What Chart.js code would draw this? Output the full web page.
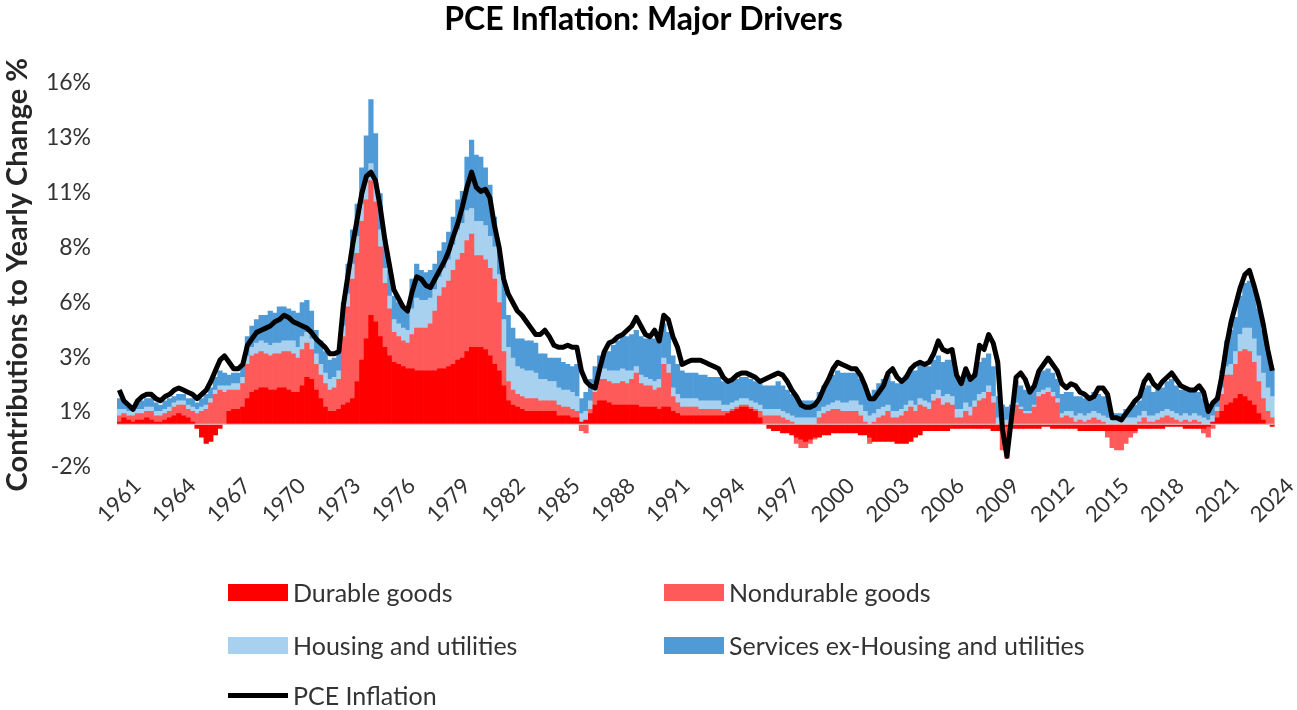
<!DOCTYPE html>
<html>
<head>
<meta charset="utf-8">
<title>PCE Inflation: Major Drivers</title>
<script src="https://cdn.jsdelivr.net/npm/chart.js@4.4.1/dist/chart.umd.min.js"></script>
<style>
  html, body { margin: 0; padding: 0; background: #fff; }
  #wrap { position: relative; width: 1297px; height: 710px; }
  #legend { position: absolute; left: 0; top: 0; font-family: Lato, "Open Sans", sans-serif; font-size: 25px; color: #333; }
  .item { position: absolute; display: flex; align-items: center; white-space: nowrap; height: 26px; }
  .swatch { width: 60px; height: 17px; margin-right: 5px; }
  .swatch.line { height: 5px; }
</style>
</head>
<body>
<div id="wrap">
  <canvas id="chart" width="1297" height="710"></canvas>
  <div id="legend"></div>
</div>
<script>
// quarterly data, 1961 Q1 .. 2024 Q1, contributions in percentage points
var startYear = 1961;
var tickYears = [1961, 1964, 1967, 1970, 1973, 1976, 1979, 1982, 1985, 1988, 1991,
                 1994, 1997, 2000, 2003, 2006, 2009, 2012, 2015, 2018, 2021, 2024];
var yTickCount = 8;

var pce = [
  1.6, 1.1, 0.9, 0.7,   1.1, 1.3, 1.4, 1.4,   1.2, 1.1, 1.3, 1.4,   1.6, 1.7, 1.6, 1.5,
  1.4, 1.2, 1.4, 1.6,   2.0, 2.5, 3.0, 3.2,   2.9, 2.6, 2.6, 2.8,   3.7, 4.0, 4.3, 4.4,
  4.5, 4.6, 4.8, 4.9,   5.1, 5.0, 4.8, 4.7,   4.6, 4.5, 4.3, 4.0,   3.8, 3.6, 3.3, 3.3,
  3.4, 5.6, 7.0, 8.4,   9.6, 10.8, 11.6, 11.8, 11.4, 10.2, 8.7, 7.5, 6.3, 5.9, 5.5, 5.3,
  6.2, 6.9, 6.8, 6.5,   6.4, 6.8, 7.2, 7.6,   8.1, 8.8, 9.4, 10.2,  11.1, 11.8, 11.1, 10.9,
  11.0, 10.6, 9.3, 8.3, 6.8, 6.1, 5.7, 5.3,   5.1, 4.8, 4.5, 4.2,   4.2, 4.4, 4.1, 3.7,
  3.6, 3.6, 3.7, 3.6,   3.6, 2.5, 2.0, 1.8,   1.7, 2.6, 3.4, 3.8,   3.9, 4.1, 4.2, 4.4,
  4.6, 5.0, 4.6, 4.2,   4.1, 4.4, 3.9, 5.1,   4.9, 4.1, 3.6, 2.8,   2.9, 3.0, 3.0, 3.0,
  2.9, 2.8, 2.7, 2.6,   2.2, 2.0, 2.1, 2.3,   2.4, 2.4, 2.3, 2.2,   2.0, 2.1, 2.2, 2.3,
  2.4, 2.3, 2.0, 1.6,   1.3, 0.9, 0.8, 0.8,   0.9, 1.2, 1.7, 2.1,   2.6, 2.9, 2.8, 2.7,
  2.6, 2.6, 2.3, 1.8,   1.2, 1.2, 1.5, 1.8,   2.4, 2.6, 2.2, 2.0,   2.2, 2.6, 2.8, 2.9,
  2.8, 2.9, 3.3, 3.9,   3.5, 3.4, 3.5, 2.3,   1.9, 2.6, 2.1, 2.3,   3.7, 3.5, 4.2, 3.8,
  2.9, -0.2, -1.5, 0.3, 2.2, 2.4, 2.1, 1.5,   1.8, 2.5, 2.8, 3.1,   2.8, 2.5, 1.9, 1.7,
  1.9, 1.8, 1.5, 1.4,   1.2, 1.3, 1.7, 1.7,   1.4, 0.3, 0.3, 0.2,   0.5, 0.8, 1.1, 1.3,
  2.0, 2.3, 1.9, 1.7,   2.0, 2.2, 2.4, 2.1,   1.8, 1.7, 1.6, 1.6,   1.8, 1.5, 0.6, 1.0,
  1.2, 2.3, 3.7, 4.8,   5.6, 6.4, 7.0, 7.2,   6.5, 5.7, 4.7, 3.5,   2.5
];

var durable = [
  0.1, 0.3, 0.2, 0.1,   0.2, 0.2, 0.3, 0.2,   0.1, 0.1, 0.2, 0.3,   0.4, 0.5, 0.4, 0.3,
  0.1, -0.2, -0.6, -0.9, -0.8, -0.5, -0.2, 0.0, 0.6, 0.7, 0.7, 0.8,   1.2, 1.5, 1.6, 1.7,
  1.7, 1.6, 1.6, 1.7,   1.7, 1.6, 1.5, 1.5,   1.8, 2.2, 2.1, 1.6,   1.2, 0.8, 0.6, 0.6,
  0.7, 0.9, 1.0, 1.2,   2.0, 3.0, 4.0, 5.1,   4.8, 4.1, 3.6, 3.2,   2.9, 2.8, 2.7, 2.6,
  2.6, 2.5, 2.5, 2.5,   2.5, 2.5, 2.6, 2.6,   2.7, 2.8, 3.0, 3.1,   3.4, 3.6, 3.6, 3.6,
  3.5, 3.2, 2.8, 2.5,   1.8, 1.1, 0.9, 0.8,   0.7, 0.6, 0.6, 0.6,   0.6, 0.6, 0.6, 0.6,
  0.4, 0.4, 0.4, 0.3,   0.3, 0.1, 0.2, 0.5,   0.9, 1.1, 1.1, 1.0,   0.9, 0.9, 0.9, 0.9,
  0.9, 0.9, 0.8, 0.8,   0.8, 0.8, 0.7, 0.8,   0.8, 0.6, 0.5, 0.4,   0.4, 0.4, 0.4, 0.4,
  0.4, 0.4, 0.4, 0.4,   0.4, 0.5, 0.6, 0.7,   0.8, 0.8, 0.7, 0.6,   0.3, 0.0, -0.2, -0.3,
  -0.3, -0.4, -0.4, -0.5, -0.6, -0.7, -0.8, -0.7, -0.6, -0.6, -0.5, -0.5, -0.4, -0.4, -0.4, -0.4,
  -0.4, -0.4, -0.5, -0.5, -0.6, -0.8, -0.8, -0.8, -0.8, -0.8, -0.9, -0.9, -0.9, -0.8, -0.6, -0.5,
  -0.3, -0.3, -0.3, -0.3, -0.3, -0.3, -0.2, -0.2, -0.2, -0.2, -0.2, -0.2, -0.2, -0.2, -0.2, -0.3,
  -0.3, -0.2, -0.1, -0.2, -0.2, -0.2, -0.2, -0.2, -0.2, -0.2, -0.1, -0.1, -0.2, -0.2, -0.2, -0.2,
  -0.2, -0.2, -0.3, -0.3, -0.3, -0.3, -0.3, -0.3, -0.3, -0.3, -0.3, -0.3, -0.3, -0.3, -0.3, -0.2,
  -0.2, -0.2, -0.2, -0.2, -0.2, -0.1, -0.1, -0.1, -0.1, -0.2, -0.2, -0.2, -0.2, -0.2, -0.1, 0.1,
  0.3, 0.6, 0.9, 1.0,   1.2, 1.4, 1.3, 1.1,   0.9, 0.5, 0.2, 0.0,   -0.1
];

var nondurable = [
  0.3, 0.2, 0.2, 0.3,   0.3, 0.3, 0.3, 0.4,   0.3, 0.3, 0.3, 0.3,   0.4, 0.4, 0.5, 0.4,
  0.5, 0.5, 0.6, 0.7,   1.0, 1.4, 1.6, 1.5,   1.0, 0.9, 0.9, 1.1,   1.6, 1.7, 1.7, 1.7,
  1.6, 1.6, 1.7, 1.6,   1.7, 1.8, 1.8, 1.6,   1.7, 1.6, 1.4, 1.2,   1.1, 1.1, 1.0, 1.1,
  1.4, 3.2, 4.5, 5.6,   6.0, 6.5, 6.5, 6.3,   5.6, 4.2, 3.0, 2.2,   1.4, 1.3, 1.2, 1.2,
  1.6, 2.0, 2.0, 2.0,   2.2, 2.8, 3.4, 3.8,   4.0, 4.4, 4.7, 4.9,   5.2, 5.3, 4.3, 4.3,
  4.2, 4.1, 4.0, 3.2,   1.6, 0.9, 0.7, 0.6,   0.6, 0.6, 0.6, 0.6,   0.5, 0.5, 0.5, 0.5,
  0.5, 0.4, 0.4, 0.4,   0.3, -0.3, -0.4, 0.2, 0.6, 1.0, 1.0, 1.0,   1.0, 1.0, 1.1, 1.0,
  1.2, 1.5, 1.1, 1.0,   1.0, 0.8, 1.0, 2.0,   1.6, 0.7, 0.5, 0.4,   0.4, 0.4, 0.4, 0.3,
  0.3, 0.3, 0.3, 0.3,   0.2, 0.1, 0.1, 0.1,   0.1, 0.1, 0.1, 0.1,   0.3, 0.4, 0.4, 0.4,
  0.4, 0.3, 0.2, 0.1,   -0.3, -0.4, -0.3, -0.2, -0.1, 0.3, 0.5, 0.6,  0.7, 0.7, 0.6, 0.6,
  0.6, 0.6, 0.4, 0.1,   -0.3, 0.1, 0.3, 0.4,  0.6, 0.3, 0.3, 0.4,   0.6, 0.8, 0.6, 0.9,
  0.8, 0.7, 1.1, 1.2,   0.9, 1.0, 0.9, 0.3,   0.3, 0.6, 0.4, 0.8,   1.1, 1.2, 1.5, 1.0,
  0.0, -1.0, -1.5, 0.2, 0.9, 0.7, 0.5, 0.5,   0.8, 1.3, 1.4, 1.5,   1.3, 1.0, 0.3, 0.4,
  0.3, 0.1, 0.2, 0.1,   0.2, 0.3, 0.2, 0.1,   -0.3, -0.8, -0.9, -0.9, -0.6, -0.3, -0.1, 0.1,
  0.3, 0.1, 0.1, 0.2,   0.3, 0.4, 0.3, 0.2,   0.1, 0.2, 0.1, 0.2,   0.1, -0.2, -0.5, -0.2,
  0.3, 0.8, 1.4, 1.3,   1.6, 2.0, 2.2, 2.3,   2.0, 1.5, 1.0, 0.6,   0.3
];

var housing = [
  0.3, 0.2, 0.2, 0.2,   0.2, 0.2, 0.2, 0.2,   0.2, 0.2, 0.2, 0.2,   0.2, 0.2, 0.2, 0.2,
  0.2, 0.2, 0.2, 0.2,   0.2, 0.2, 0.2, 0.3,   0.2, 0.3, 0.3, 0.3,   0.4, 0.4, 0.5, 0.5,
  0.5, 0.5, 0.5, 0.5,   0.5, 0.5, 0.6, 0.5,   0.6, 0.5, 0.5, 0.5,   0.5, 0.5, 0.5, 0.5,
  0.4, 0.5, 0.6, 0.7,   0.8, 0.8, 0.8, 0.8,   0.9, 0.8, 0.7, 0.6,   0.6, 0.6, 0.6, 0.6,
  1.2, 1.4, 1.3, 1.3,   1.2, 1.0, 0.9, 0.9,   1.0, 1.2, 1.4, 1.4,   1.4, 1.2, 1.6, 1.6,
  1.6, 1.5, 1.5, 1.3,   1.5, 1.6, 1.5, 1.3,   1.3, 1.3, 1.3, 1.2,   1.0, 1.0, 0.9, 0.9,
  0.8, 0.8, 0.8, 0.8,   0.7, 0.4, 0.4, 0.4,   0.4, 0.4, 0.5, 0.5,   0.6, 0.6, 0.6, 0.6,
  0.4, 0.3, 0.4, 0.4,   0.3, 0.4, 0.4, 0.3,   0.4, 0.4, 0.4, 0.4,   0.4, 0.4, 0.4, 0.4,
  0.4, 0.4, 0.4, 0.4,   0.3, 0.3, 0.3, 0.3,   0.3, 0.3, 0.3, 0.3,   0.3, 0.3, 0.3, 0.3,
  0.3, 0.3, 0.3, 0.3,   0.3, 0.3, 0.3, 0.3,   0.3, 0.3, 0.3, 0.3,   0.3, 0.4, 0.4, 0.4,
  0.5, 0.5, 0.5, 0.5,   0.4, 0.4, 0.4, 0.4,   0.3, 0.3, 0.3, 0.3,   0.3, 0.3, 0.3, 0.3,
  0.3, 0.3, 0.3, 0.4,   0.4, 0.4, 0.4, 0.4,   0.4, 0.4, 0.4, 0.3,   0.3, 0.3, 0.3, 0.3,
  0.3, 0.2, 0.2, 0.1,   0.1, 0.1, 0.1, 0.1,   0.1, 0.2, 0.2, 0.2,   0.2, 0.2, 0.2, 0.2,
  0.3, 0.3, 0.3, 0.3,   0.3, 0.3, 0.3, 0.3,   0.3, 0.2, 0.2, 0.2,   0.3, 0.3, 0.3, 0.3,
  0.3, 0.3, 0.3, 0.3,   0.3, 0.3, 0.3, 0.3,   0.3, 0.3, 0.3, 0.3,   0.3, 0.3, 0.2, 0.3,
  0.2, 0.3, 0.4, 0.5,   0.6, 0.8, 1.0, 1.1,   1.1, 1.2, 1.2, 1.1,   1.0
];

var services = [
  0.5, 0.3, 0.2, 0.2,   0.3, 0.4, 0.4, 0.4,   0.4, 0.3, 0.4, 0.4,   0.3, 0.3, 0.3, 0.3,
  0.4, 0.3, 0.4, 0.5,   0.5, 0.6, 0.7, 0.6,   0.5, 0.5, 0.5, 0.6,   0.9, 1.0, 1.1, 1.2,
  1.3, 1.6, 1.4, 1.7,   1.6, 1.5, 1.4, 1.6,   1.6, 1.5, 1.3, 1.1,   1.1, 1.0, 0.9, 0.9,
  0.9, 1.1, 1.4, 1.6,   1.5, 1.7, 2.2, 3.0,   2.3, 1.7, 1.4, 1.2,   1.1, 1.0, 0.9, 0.9,
  1.4, 1.6, 1.4, 1.3,   1.3, 1.2, 1.2, 1.2,   1.3, 1.3, 1.4, 1.5,   2.5, 3.2, 3.1, 3.0,
  2.7, 2.4, 1.4, 1.2,   1.8, 1.5, 1.4, 1.3,   1.4, 1.4, 1.4, 1.4,   1.2, 1.2, 1.1, 1.1,
  1.4, 1.3, 1.2, 1.2,   1.5, 0.7, 0.9, 1.0,   0.8, 0.7, 0.8, 0.9,   1.2, 1.4, 1.6, 1.6,
  1.7, 1.7, 1.8, 1.8,   1.9, 2.0, 1.8, 1.6,   1.5, 1.5, 1.4, 1.3,   1.2, 1.2, 1.2, 1.2,
  1.2, 1.1, 1.1, 1.1,   1.1, 1.1, 1.0, 1.0,   1.0, 1.0, 1.0, 1.0,   1.1, 1.1, 1.1, 1.1,
  1.3, 1.2, 1.1, 1.0,   1.0, 0.8, 0.8, 0.8,   0.8, 0.9, 1.0, 1.1,   1.3, 1.4, 1.4, 1.4,
  1.3, 1.3, 1.2, 1.2,   0.7, 1.1, 1.2, 1.3,   1.4, 1.4, 1.3, 1.3,   1.4, 1.5, 1.6, 1.6,
  1.6, 1.7, 1.6, 1.6,   1.6, 1.6, 1.7, 1.6,   1.2, 1.3, 1.3, 1.3,   1.5, 1.6, 1.5, 1.4,
  1.0, 0.7, 0.6, 0.6,   1.0, 1.0, 1.0, 0.9,   0.9, 0.9, 0.9, 0.9,   0.9, 0.9, 0.9, 0.9,
  0.9, 0.9, 0.8, 0.8,   0.8, 0.9, 0.9, 0.9,   1.0, 0.3, 0.3, 0.3,   0.4, 0.5, 0.6, 0.7,
  1.1, 1.4, 1.1, 1.1,   1.1, 1.3, 1.5, 1.3,   1.2, 1.1, 1.1, 1.1,   1.1, 0.9, 0.3, 0.6,
  0.5, 0.8, 1.2, 1.6,   1.6, 1.8, 2.1, 2.2,   2.3, 2.2, 2.0, 1.6,   1.3
];

var quarters = [];
for (var i = 0; i < pce.length; i++) {
  quarters.push((startYear + Math.floor(i / 4)) + ' Q' + (i % 4 + 1));
}

Chart.defaults.font.family = 'Lato, "Open Sans", sans-serif';
Chart.defaults.color = '#333';

var zeroLine = {
  id: 'zeroLine',
  beforeDatasetDraw: function(chart, args) {
    if (args.index !== 4) return;
    var y = chart.scales.y.getPixelForValue(0);
    var ctx = chart.ctx;
    ctx.save();
    ctx.strokeStyle = '#e6d6d6';
    ctx.lineWidth = 1;
    ctx.beginPath();
    ctx.moveTo(chart.chartArea.left, y);
    ctx.lineTo(chart.chartArea.right, y);
    ctx.stroke();
    ctx.restore();
  }
};

function barSet(label, data, color) {
  return {
    type: 'bar', label: label, data: data, backgroundColor: color,
    borderWidth: 0, barPercentage: 1, categoryPercentage: 1, order: 1
  };
}

var ctx = document.getElementById('chart');
var myChart = new Chart(ctx, {
  type: 'bar',
  data: {
    labels: quarters,
    datasets: [
      barSet('Durable goods', durable, '#ff0000'),
      barSet('Nondurable goods', nondurable, '#ff5a5a'),
      barSet('Housing and utilities', housing, '#a8d0ef'),
      barSet('Services ex-Housing and utilities', services, '#4f9bd8'),
      {
        type: 'line', label: 'PCE Inflation', data: pce, stack: 'line',
        borderColor: '#000', backgroundColor: '#000', borderWidth: 5,
        pointRadius: 0, tension: 0, borderJoinStyle: 'round', order: 0
      }
    ]
  },
  options: {
    responsive: false,
    animation: false,
    layout: { padding: { left: 0, right: 10, top: 0, bottom: 166 } },
    plugins: {
      legend: { display: false },
      tooltip: { enabled: false },
      title: {
        display: true,
        text: 'PCE Inflation: Major Drivers',
        color: '#000',
        font: { size: 32, weight: 'bold' },
        padding: { top: 0, bottom: 44 }
      }
    },
    scales: {
      x: {
        stacked: true,
        grid: { display: false, drawTicks: false },
        border: { display: false },
        afterBuildTicks: function(scale) {
          scale.ticks = scale.ticks.filter(function(t) {
            return t.value % 4 === 0 && tickYears.indexOf(startYear + t.value / 4) >= 0;
          });
        },
        afterFit: function(scale) { scale.height = 77; },
        ticks: {
          autoSkip: false, maxRotation: 45, minRotation: 45,
          labelOffset: 18, padding: 6,
          font: { size: 22 }, color: '#333',
          callback: function(value) { return this.getLabelForValue(value).slice(0, 4); }
        }
      },
      y: {
        stacked: true,
        min: -2, max: 16,
        grid: { display: false, drawTicks: false },
        border: { display: false },
        afterFit: function(scale) { scale.width = 117; },
        ticks: {
          count: yTickCount, padding: 26,
          font: { size: 23 }, color: '#333',
          callback: function(v) { return Math.round(v) + '%'; }
        },
        title: {
          display: true,
          text: 'Contributions to Yearly Change %',
          color: '#262626',
          font: { size: 29, weight: 'bold' },
          padding: { top: 0, bottom: 0 }
        }
      }
    }
  },
  plugins: [zeroLine]
});

// legend laid out as in the original: two columns, three rows
var legendPos = [[228, 579], [664, 579], [228, 632], [664, 632], [228, 682]];
var legendBox = document.getElementById('legend');
myChart.data.datasets.forEach(function(ds, k) {
  var item = document.createElement('div');
  item.className = 'item';
  item.style.left = legendPos[k][0] + 'px';
  item.style.top = legendPos[k][1] + 'px';
  var sw = document.createElement('span');
  sw.className = ds.type === 'line' ? 'swatch line' : 'swatch';
  sw.style.background = ds.type === 'line' ? ds.borderColor : ds.backgroundColor;
  var tx = document.createElement('span');
  tx.textContent = ds.label;
  item.appendChild(sw);
  item.appendChild(tx);
  legendBox.appendChild(item);
});
</script>
</body>
</html>
